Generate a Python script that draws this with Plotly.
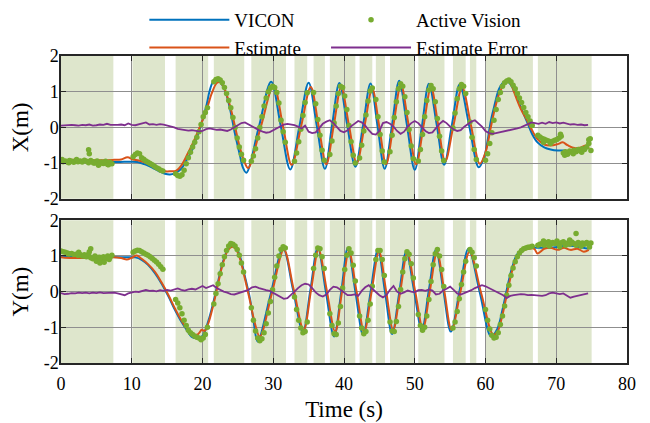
import plotly.graph_objects as go

# ---------------- data ----------------
# shaded intervals where the active-vision target is visible (s)
shade_start = [0.0, 10.1, 16.2, 21.6, 26.9, 33.0, 35.7, 38.0, 42.2, 44.5, 46.5, 50.5, 55.4, 57.8, 60.0, 67.4]
shade_end = [7.4, 14.7, 20.8, 25.9, 31.8, 34.8, 37.3, 41.6, 44.0, 45.8, 49.9, 54.2, 57.2, 58.7, 66.7, 75.0]

x_ticks = [0, 10, 20, 30, 40, 50, 60, 70, 80]
x_tick_labels = ["0", "10", "20", "30", "40", "50", "60", "70", "80"]
y_ticks = [-2, -1, 0, 1, 2]
y_tick_labels = ["-2", "-1", "0", "1", "2"]

# X panel: VICON
x_vicon_t = [0, 2, 4, 6, 8, 10, 10.8, 11.6, 12.3, 13.2, 13.9, 14.7, 15.4, 16.1, 17.0, 17.7, 18.5, 19.2, 19.9,
             20.6, 21.0, 21.5, 22.0, 22.4, 23.2, 23.9, 24.6, 25.3, 25.7, 26.2, 27.95, 29.7, 31.05, 32.4, 33.7,
             35.0, 36.15, 37.3, 38.3, 39.35, 40.45, 41.6, 42.7, 43.75, 44.75, 45.75, 46.8, 47.8, 48.9, 50.0,
             51.0, 52.0, 53.1, 54.15, 55.25, 56.35, 57.7, 59.05, 59.8, 60.3, 60.76, 61.2, 61.9, 62.5, 62.9,
             63.4, 64.05, 65.0, 65.9, 66.6, 67.35, 68.3, 69.2, 70.2, 71.1, 72.0, 73.0, 73.9, 74.6]
x_vicon_v = [-0.96, -0.96, -0.97, -0.97, -0.97, -0.96, -0.97, -1.02, -1.07, -1.16, -1.23, -1.30, -1.32, -1.28,
             -1.16, -0.93, -0.65, -0.28, 0.14, 0.65, 1.02, 1.28, 1.34, 1.30, 1.02, 0.51, -0.19, -0.79, -1.12,
             -1.27, 0.0, 1.28, 0.05, -1.18, 0.03, 1.25, 0.05, -1.16, 0.04, 1.24, 0.07, -1.10, 0.06, 1.23, 0.03,
             -1.16, 0.07, 1.31, 0.06, -1.19, 0.01, 1.22, 0.08, -1.05, 0.07, 1.20, 0.04, -1.12, -0.84, -0.37,
             0.19, 0.56, 1.07, 1.26, 1.31, 1.24, 1.02, 0.56, 0.14, -0.19, -0.42, -0.56, -0.62, -0.65, -0.65,
             -0.67, -0.63, -0.58, -0.56]

# X panel: Estimate
x_est_t = [0, 2, 4, 6, 7.5, 8.5, 9.4, 10.2, 11.0, 12.3, 13.75, 14.7, 15.5, 16.3, 17.0, 17.9, 18.8, 19.7, 20.6,
           21.3, 22.0, 22.4, 22.8, 23.2, 23.9, 24.6, 25.3, 26.0, 26.45, 28.25, 30.05, 31.35, 32.6, 33.95, 35.3,
           36.4, 37.5, 38.55, 39.6, 40.7, 41.8, 42.9, 44.0, 44.98, 45.95, 47.0, 48.05, 49.12, 50.2, 51.25, 52.3,
           53.3, 54.3, 55.5, 56.7, 57.95, 59.2, 60.0, 60.75, 61.3, 62.0, 62.6, 63.2, 63.6, 64.05, 65.0, 65.9,
           66.6, 67.35, 68.3, 69.2, 70.2, 70.9, 71.6, 72.6, 73.5, 74.2, 74.6]
x_est_v = [-0.92, -0.91, -0.92, -0.92, -0.91, -0.90, -0.84, -0.90, -0.93, -1.02, -1.16, -1.23, -1.23, -1.21,
           -1.07, -0.74, -0.37, 0.05, 0.51, 0.95, 1.24, 1.27, 1.20, 1.04, 0.60, 0.02, -0.58, -1.00, -1.14, 0.02,
           1.17, 0.06, -1.05, 0.04, 1.13, 0.05, -1.03, 0.05, 1.12, 0.06, -1.00, 0.04, 1.08, 0.03, -1.03, 0.08,
           1.19, 0.08, -1.03, 0.05, 1.12, 0.09, -0.95, 0.08, 1.12, 0.05, -1.02, -0.70, 0.00, 0.50, 0.98, 1.20,
           1.28, 1.22, 0.98, 0.51, 0.19, -0.09, -0.33, -0.48, -0.51, -0.47, -0.42, -0.50, -0.58, -0.56, -0.51,
           -0.58]

# Y panel: VICON
y_vicon_t = [0, 1, 3, 5, 7, 9, 10.5, 11.4, 12.3, 13.3, 14.2, 15.2, 16.1, 17.0, 17.75, 18.45, 19.2, 19.6, 20.1,
             20.8, 21.5, 22.2, 22.9, 23.6, 24.05, 24.6, 25.3, 26.0, 26.7, 27.2, 27.8, 29.6, 31.4, 32.8, 34.2,
             35.25, 36.3, 37.45, 38.6, 39.6, 40.55, 41.6, 42.7, 43.75, 44.8, 45.8, 46.8, 47.8, 48.8, 49.9, 51.0,
             52.0, 53.0, 54.05, 55.1, 56.35, 57.6, 59.2, 60.8, 61.7, 62.4, 63.1, 63.8, 64.5, 65.5, 66.4, 67.35,
             68.75, 70.2, 71.6, 73.0, 74.4, 74.6]
y_vicon_v = [1.00, 0.98, 0.97, 0.97, 0.97, 0.96, 0.96, 0.89, 0.75, 0.51, 0.23, -0.14, -0.51, -0.84, -1.07, -1.26,
             -1.31, -1.31, -1.21, -0.84, -0.33, 0.28, 0.84, 1.21, 1.33, 1.29, 0.98, 0.42, -0.19, -0.80, -1.40,
             -0.10, 1.21, 0.05, -1.12, 0.05, 1.23, -0.02, -1.26, -0.02, 1.23, 0.01, -1.21, -0.02, 1.17, -0.01,
             -1.19, -0.04, 1.12, 0.03, -1.07, 0.05, 1.17, 0.03, -1.12, 0.04, 1.20, -0.03, -1.26, -1.03, -0.51,
             0.14, 0.70, 1.05, 1.20, 1.23, 1.23, 1.23, 1.25, 1.29, 1.26, 1.21, 1.22]

# Y panel: Estimate
y_est_t = [0, 0.5, 2, 4, 6, 7.4, 8.5, 9.3, 10.0, 10.7, 11.4, 12.3, 13.3, 14.2, 15.2, 16.1, 17.0, 17.75, 18.45,
           19.3, 19.6, 19.9, 20.3, 20.8, 21.5, 22.2, 22.9, 23.6, 24.2, 24.7, 25.3, 26.0, 26.7, 27.3, 28.1, 29.8,
           31.5, 32.9, 34.3, 35.35, 36.4, 37.58, 38.75, 39.72, 40.7, 41.78, 42.85, 43.9, 44.95, 45.95, 46.95,
           47.95, 48.95, 50.05, 51.15, 52.15, 53.15, 54.18, 55.2, 56.48, 57.75, 59.4, 61.1, 61.7, 62.4, 63.1,
           63.8, 64.5, 65.5, 66.4, 66.9, 67.35, 68.3, 69.2, 70.2, 71.1, 72.0, 73.0, 73.9, 74.6]
y_est_v = [0.96, 0.95, 0.94, 0.95, 0.94, 0.96, 0.94, 0.90, 0.95, 1.01, 0.92, 0.77, 0.55, 0.26, -0.10, -0.47,
           -0.80, -1.02, -1.18, -1.20, -1.14, -1.07, -1.10, -0.90, -0.40, 0.22, 0.80, 1.16, 1.26, 1.20, 0.92,
           0.36, -0.25, -0.80, -1.26, -0.05, 1.17, 0.05, -1.07, 0.05, 1.17, 0.02, -1.12, 0.00, 1.12, 0.00, -1.12,
           0.00, 1.12, 0.02, -1.07, 0.00, 1.07, 0.02, -1.03, 0.03, 1.10, 0.01, -1.07, 0.02, 1.12, -0.05, -1.21,
           -1.12, -0.65, 0.00, 0.61, 0.98, 1.17, 1.21, 1.20, 1.07, 1.20, 1.23, 1.17, 1.23, 1.17, 1.20, 1.12, 1.17]

# Estimate error, sampled every 0.5 s from 0 to 74.5 s
err_step = 0.5
x_err_v = [0.05, 0.06, 0.05, 0.07, 0.06, 0.05, 0.07, 0.06, 0.08, 0.05,
           0.06, 0.08, 0.07, 0.10, 0.07, 0.06, 0.07, 0.08, 0.06, 0.11,
           0.07, 0.06, 0.08, 0.10, 0.14, 0.08, 0.09, 0.07, 0.09, 0.08,
           0.06, 0.04, 0.00, -0.04, -0.06, -0.07, -0.09, -0.08, -0.10, -0.11,
           -0.10, -0.05, -0.03, -0.06, -0.07, -0.06, -0.08, -0.10, -0.06, 0.00,
           0.08, 0.12, 0.14, 0.08, 0.02, -0.03, -0.08, -0.12, -0.15, -0.13,
           -0.08, -0.02, 0.04, 0.08, 0.10, 0.09, 0.06, 0.02, -0.03, 0.05,
           -0.12, -0.16, -0.14, -0.02, 0.10, 0.16, 0.20, 0.12, 0.00, -0.10,
           -0.14, -0.08, 0.03, 0.10, 0.18, 0.14, 0.05, -0.08, -0.18, -0.20,
           -0.10, 0.12, 0.15, 0.10, 0.02, -0.10, -0.18, -0.12, 0.02, 0.12,
           0.18, 0.12, 0.00, -0.10, -0.16, -0.14, -0.02, 0.10, 0.18, 0.12,
           0.02, -0.06, -0.10, -0.08, 0.02, 0.10, 0.16, 0.20, 0.12, 0.02,
           -0.10, -0.16, -0.18, -0.16, -0.14, -0.12, -0.11, -0.08, -0.06, -0.03,
           0.00, 0.04, 0.10, 0.14, 0.12, 0.10, 0.13, 0.10, 0.15, 0.12,
           0.14, 0.11, 0.13, 0.10, 0.08, 0.09, 0.07, 0.08, 0.06, 0.07]
y_err_v = [-0.04, -0.07, -0.06, -0.04, -0.05, -0.03, -0.04, -0.03, -0.05, -0.03,
           -0.04, -0.02, -0.04, -0.03, -0.04, -0.03, -0.05, -0.07, -0.10, -0.05,
           -0.02, 0.00, -0.01, 0.03, 0.05, 0.02, 0.03, 0.01, 0.04, 0.02,
           0.05, 0.03, 0.06, 0.09, 0.05, 0.03, 0.06, 0.08, 0.06, 0.10,
           0.16, 0.10, 0.14, 0.18, 0.10, 0.04, 0.00, -0.03, -0.07, -0.08,
           -0.05, -0.02, 0.00, 0.05, 0.12, 0.14, 0.10, 0.06, 0.04, 0.02,
           -0.03, -0.08, -0.15, -0.20, -0.18, -0.10, 0.00, 0.10, 0.18, 0.22,
           0.20, 0.10, -0.02, -0.10, -0.14, -0.08, 0.05, 0.14, 0.12, 0.05,
           -0.02, -0.10, -0.10, -0.08, -0.12, 0.02, 0.12, 0.18, 0.08, -0.02,
           -0.10, -0.16, -0.10, 0.05, 0.16, 0.00, -0.06, -0.02, 0.03, 0.00,
           -0.02, 0.04, 0.05, 0.02, 0.06, 0.03, -0.08, -0.06, 0.03, 0.08,
           0.14, 0.05, -0.05, -0.08, -0.04, -0.02, 0.04, 0.10, 0.15, 0.18,
           0.15, 0.10, 0.06, 0.02, -0.04, -0.10, -0.18, -0.12, -0.10, -0.08,
           -0.07, -0.08, -0.10, -0.09, -0.10, -0.11, -0.12, -0.10, -0.05, -0.03,
           -0.06, -0.07, -0.05, -0.12, -0.17, -0.14, -0.12, -0.11, -0.08, -0.05]

# Active vision measurements: one list per shaded interval, sampled every 0.3 s from av_start
av_step = 0.3
av_start = [0.0, 10.2, 16.2, 21.6, 26.9, 33.0, 35.7, 38.0, 42.2, 44.5, 46.5, 50.5, 55.4, 57.8, 60.0, 67.4]
x_av = [
    [-0.92, -0.96, -0.94, -0.97, -0.93, -0.95, -0.98, -0.93, -0.96, -0.94, -0.97, -0.92, -0.95, -0.99, -0.93,
     -0.96, -1.00, -0.94, -1.03, -0.97, -1.01, -0.95, -1.04, -0.98, -1.02],
    [-0.82, -0.76, -0.72, -0.74, -0.85, -0.89, -0.94, -0.98, -1.01, -1.05, -1.09, -1.13, -1.16, -1.20, -1.22],
    [-1.30, -1.35, -1.37, -1.33, -1.20, -1.02, -0.85, -0.70, -0.55, -0.42, -0.28, -0.12, 0.08, 0.30, 0.42, 0.55],
    [1.28, 1.34, 1.36, 1.33, 1.25, 1.12, 0.95, 0.75, 0.55, 0.28, 0.00, -0.30, -0.55, -0.75, -0.92],
    [-0.95, -0.80, -0.60, -0.30, 0.00, 0.30, 0.60, 0.82, 1.00, 1.10, 1.15, 1.12, 0.98, 0.68, 0.20, -0.12, -0.42],
    [-0.95, -0.72, -0.40, -0.05, 0.33, 0.70, 0.97],
    [0.98, 0.66, 0.22, -0.22, -0.64, -0.92],
    [-0.76, -0.38, 0.12, 0.60, 0.95, 1.15, 1.12, 0.88, 0.50, 0.05, -0.40, -0.78, -1.00],
    [-0.86, -0.50, -0.10, 0.35, 0.74, 1.02, 1.10],
    [0.78, 0.30, -0.20, -0.66, -0.97],
    [-0.68, -0.22, 0.28, 0.72, 1.08, 1.22, 1.15, 0.86, 0.42, -0.06, -0.52, -0.88],
    [-0.94, -0.62, -0.20, 0.30, 0.75, 1.05, 1.17, 1.08, 0.72, 0.25, -0.25, -0.66, -0.93],
    [-0.02, 0.40, 0.80, 1.08, 1.20, 1.15, 0.95],
    [0.15, -0.28, -0.62, -0.90],
    [-0.92, -0.74, -0.45, -0.15, 0.20, 0.50, 0.78, 0.98, 1.15, 1.25, 1.30, 1.33, 1.28, 1.18, 1.08, 0.95, 0.82,
     0.70, 0.56, 0.42, 0.30, 0.18, 0.05],
    [-0.22, -0.27, -0.31, -0.33, -0.36, -0.38, -0.40, -0.39, -0.36, -0.34, -0.30, -0.25, -0.72, -0.68, -0.75,
     -0.66, -0.70, -0.64, -0.68, -0.62, -0.66, -0.60, -0.62, -0.55, -0.35, -0.65],
]
x_av_extra_t = [0.15, 1.1, 2.2, 3.9, 4.0, 4.6, 5.3, 6.1, 6.7, 68.2, 69.2, 70.6, 71.2, 72.4, 73.6, 74.6, 74.8]
x_av_extra_v = [-0.90, -0.99, -0.90, -0.63, -0.74, -1.00, -1.06, -0.99, -1.05, -0.42, -0.45, -0.19, -0.78, -0.74,
                -0.70, -0.45, -0.32]
y_av = [
    [1.14, 1.12, 1.10, 1.08, 1.06, 1.07, 1.04, 1.05, 1.02, 1.04, 1.00, 1.03, 0.98, 1.05, 0.95, 0.92, 1.00, 0.88,
     0.96, 0.90, 0.98, 0.93, 1.00, 0.95, 1.02],
    [1.10, 1.14, 1.16, 1.15, 1.12, 1.08, 1.05, 1.02, 0.98, 0.93, 0.88, 0.83, 0.77, 0.70, 0.63],
    [-0.22, -0.32, -0.45, -0.62, -0.80, -0.95, -1.08, -1.15, -1.20, -1.25, -1.28, -1.30, -1.35, -1.30, -1.20, -1.00],
    [-0.35, -0.05, 0.22, 0.50, 0.75, 0.98, 1.15, 1.28, 1.35, 1.33, 1.28, 1.18, 1.02, 0.80, 0.55],
    [-0.45, -0.80, -1.10, -1.30, -1.38, -1.32, -1.15, -0.90, -0.60, -0.28, 0.05, 0.40, 0.72, 1.00, 1.18, 1.26, 1.22],
    [-0.15, -0.50, -0.80, -1.02, -1.15, -1.12, -0.85],
    [0.65, 1.02, 1.22, 1.20, 0.98, 0.65],
    [-0.62, -0.95, -1.18, -1.20, -0.88, -0.42, 0.10, 0.62, 1.02, 1.20, 1.08, 0.74, 0.30],
    [-0.68, -1.02, -1.18, -1.12, -0.80, -0.35, 0.15],
    [0.90, 1.15, 1.15, 0.90, 0.45],
    [-0.85, -1.10, -1.12, -0.84, -0.42, 0.06, 0.55, 0.92, 1.12, 1.05, 0.78, 0.38],
    [-0.64, -0.95, -1.08, -1.00, -0.68, -0.22, 0.28, 0.75, 1.06, 1.18, 1.00, 0.62, 0.14],
    [-1.02, -0.85, -0.56, -0.20, 0.20, 0.55, 0.85],
    [1.18, 1.10, 0.95, 0.72],
    [-0.50, -0.80, -1.05, -1.22, -1.30, -1.28, -1.15, -0.92, -0.68, -0.40, -0.10, 0.18, 0.45, 0.66, 0.84, 0.98,
     1.08, 1.15, 1.20, 1.22, 1.24, 1.25, 1.27],
    [1.30, 1.33, 1.35, 1.30, 1.36, 1.40, 1.33, 1.38, 1.35, 1.42, 1.32, 1.37, 1.40, 1.30, 1.36, 1.33, 1.39, 1.35,
     1.30, 1.38, 1.34, 1.36, 1.33, 1.38, 1.32, 1.36],
]
y_av_extra_t = [1.0, 2.5, 3.3, 4.0, 4.2, 5.0, 5.5, 6.1, 6.8, 68.2, 69.0, 70.5, 71.9, 72.8, 73.5, 74.7]
y_av_extra_v = [1.06, 1.10, 1.00, 1.12, 1.20, 0.85, 0.80, 0.82, 0.90, 1.42, 1.28, 1.26, 1.45, 1.63, 1.27, 1.25]

# ---------------- styling ----------------
FONT = "Liberation Serif"
C_VICON = "#0072BD"
C_EST = "#D95319"
C_AV = "#77AC30"
C_ERR = "#7E2F8E"
C_SHADE = "#dee6cc"
C_AXIS = "#262626"
C_GRID = "#8f8f8f"

# the page body adds an 8 px offset, so the figure is 8 px smaller than the window
FIG_W, FIG_H = 642, 415
M_L, M_R, M_T, M_B = 52.5, 22.5, 48, 60.3
PLOT_W = FIG_W - M_L - M_R
PLOT_H = FIG_H - M_T - M_B

fig = go.Figure()


def add_panel(xa, ya, vt, vv, et, ev, av_vals, ex_t, ex_v, err_vals, show):
    gx, gy = [], []
    for k, vals in enumerate(av_vals):
        for i, v in enumerate(vals):
            gx.append(av_start[k] + i * av_step)
            gy.append(v)
    gx += ex_t
    gy += ex_v
    err_t = [i * err_step for i in range(len(err_vals))]
    fig.add_trace(go.Scatter(x=vt, y=vv, mode="lines", name="VICON", xaxis=xa, yaxis=ya,
                             line=dict(color=C_VICON, width=2, shape="spline"),
                             showlegend=show, legend="legend", legendrank=1))
    fig.add_trace(go.Scatter(x=et, y=ev, mode="lines", name="Estimate", xaxis=xa, yaxis=ya,
                             line=dict(color=C_EST, width=2, shape="spline"),
                             showlegend=show, legend="legend", legendrank=2))
    fig.add_trace(go.Scatter(x=gx, y=gy, mode="markers", name="Active Vision", xaxis=xa, yaxis=ya,
                             marker=dict(color=C_AV, size=5.5, line=dict(width=0)),
                             showlegend=show, legend="legend2", legendrank=3))
    fig.add_trace(go.Scatter(x=err_t, y=err_vals, mode="lines", name="Estimate Error", xaxis=xa, yaxis=ya,
                             line=dict(color=C_ERR, width=1.8),
                             showlegend=show, legend="legend2", legendrank=4))


add_panel("x", "y", x_vicon_t, x_vicon_v, x_est_t, x_est_v, x_av, x_av_extra_t, x_av_extra_v, x_err_v, True)
add_panel("x2", "y2", y_vicon_t, y_vicon_v, y_est_t, y_est_v, y_av, y_av_extra_t, y_av_extra_v, y_err_v, False)

shapes = []
for s, e in zip(shade_start, shade_end):
    for xr, yr in (("x", "y domain"), ("x2", "y2 domain")):
        shapes.append(dict(type="rect", xref=xr, yref=yr, x0=s, x1=e, y0=0, y1=1,
                           fillcolor=C_SHADE, line=dict(width=0), layer="below"))

axis_common = dict(showline=True, linecolor=C_AXIS, linewidth=1.5, mirror="ticks",
                   ticks="inside", ticklen=5, tickwidth=1.2, tickcolor=C_AXIS,
                   showgrid=True, gridcolor=C_GRID, gridwidth=1.3, zeroline=False,
                   tickfont=dict(family=FONT, size=18, color="black"))

legend_y = 1 + (M_T + 7.0) / PLOT_H
fig.update_layout(
    width=FIG_W, height=FIG_H,
    margin=dict(l=M_L, r=M_R, t=M_T, b=M_B, autoexpand=False),
    paper_bgcolor="white", plot_bgcolor="white",
    font=dict(family=FONT, color="black"),
    shapes=shapes,
    xaxis=dict(domain=[0, 1], anchor="y", range=[0, 80], tickvals=x_ticks, showticklabels=False, **axis_common),
    xaxis2=dict(domain=[0, 1], anchor="y2", range=[0, 80], tickvals=x_ticks, ticktext=x_tick_labels,
                ticklabelstandoff=4,
                title=dict(text="Time (s)", font=dict(family=FONT, size=23), standoff=8), **axis_common),
    yaxis=dict(domain=[0.535, 1], anchor="x", range=[-2, 2], tickvals=y_ticks, ticktext=y_tick_labels,
               ticklabelstandoff=-3,
               title=dict(text="X(m)", font=dict(family=FONT, size=23)), **axis_common),
    yaxis2=dict(domain=[0, 0.465], anchor="x2", range=[-2, 2], tickvals=y_ticks, ticktext=y_tick_labels,
                ticklabelstandoff=-3,
                title=dict(text="Y(m)", font=dict(family=FONT, size=23)), **axis_common),
    legend=dict(xref="paper", yref="paper", x=(136 - M_L) / PLOT_W, y=legend_y,
                xanchor="left", yanchor="top",
                bgcolor="rgba(0,0,0,0)", font=dict(family=FONT, size=19), itemwidth=80, tracegroupgap=0),
    legend2=dict(xref="paper", yref="paper", x=(318 - M_L) / PLOT_W, y=legend_y,
                 xanchor="left", yanchor="top",
                 bgcolor="rgba(0,0,0,0)", font=dict(family=FONT, size=19), itemwidth=80, tracegroupgap=0),
)

fig.write_html("out.html")
